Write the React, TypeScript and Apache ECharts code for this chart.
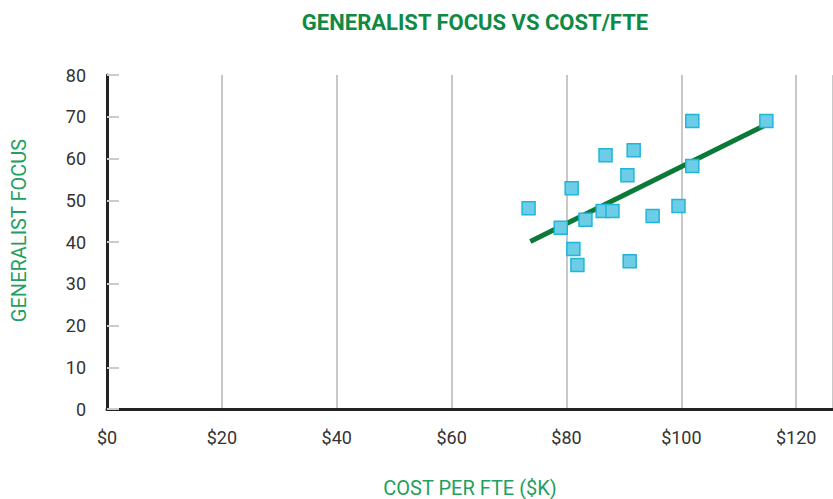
import React, { useEffect, useRef } from "react";
import * as echarts from "echarts";

const costPerFte: number[] = [73.4, 79.0, 80.9, 81.2, 81.9, 83.3, 86.3, 88.0, 86.8, 90.6, 91.7, 91.0, 95.0, 99.5, 101.9, 101.9, 114.8];
const generalistFocus: number[] = [48.1, 43.4, 52.9, 38.3, 34.5, 45.3, 47.4, 47.4, 60.8, 56.0, 62.0, 35.4, 46.2, 48.6, 69.0, 58.2, 69.0];
const trendX: number[] = [73.7, 114.3];
const trendY: number[] = [40.1, 67.8];
const yTicks: number[] = [0, 10, 20, 30, 40, 50, 60, 70, 80];
const xTickStep = 20;

const FONT = "Roboto, 'Noto Sans', sans-serif";

export default function App() {
  const ref = useRef<HTMLDivElement>(null);
  useEffect(() => {
    if (!ref.current) return;
    const chart = echarts.init(ref.current, undefined, { renderer: "svg" });
    chart.setOption({
      animation: false,
      backgroundColor: "#ffffff",
      title: {
        text: "GENERALIST FOCUS VS COST/FTE",
        left: 470,
        top: 6,
        textAlign: "center",
        textStyle: { fontFamily: FONT, fontWeight: "bold", fontSize: 22, color: "#0f8a45" },
      },
      grid: { left: 107, right: 0, top: 75, bottom: 90, containLabel: false, outerBoundsMode: "none" },
      xAxis: {
        type: "value",
        min: 0,
        max: 126.4,
        interval: xTickStep,
        name: "COST PER FTE ($K)",
        nameLocation: "middle",
        nameGap: 69,
        nameTextStyle: { fontFamily: FONT, fontSize: 20, color: "#22a060" },
        axisLine: { show: true, lineStyle: { color: "#222222", width: 3 } },
        axisTick: { show: false },
        axisLabel: {
          showMaxLabel: false,
          margin: 19,
          fontFamily: FONT,
          fontSize: 18,
          color: "#333333",
          formatter: (v: number) => "$" + v,
        },
        splitLine: { show: true, lineStyle: { color: "#c8c8c8", width: 2 } },
      },
      yAxis: {
        type: "value",
        min: yTicks[0],
        max: yTicks[yTicks.length - 1],
        interval: 10,
        name: "GENERALIST FOCUS",
        nameLocation: "middle",
        nameGap: 78,
        nameTextStyle: { fontFamily: FONT, fontSize: 20, color: "#22a060", padding: [0, 0, 0, 23] },
        axisLine: { show: true, lineStyle: { color: "#222222", width: 3 } },
        axisTick: { show: true, inside: true, length: 12, lineStyle: { color: "#cccccc", width: 2 } },
        axisLabel: { margin: 21, fontFamily: FONT, fontSize: 18, color: "#333333" },
        splitLine: { show: false },
      },
      series: [
        {
          type: "line",
          data: trendX.map((x, i) => [x, trendY[i]]),
          symbol: "none",
          lineStyle: { color: "#0b7a38", width: 5 },
          z: 2,
        },
        {
          type: "scatter",
          data: costPerFte.map((x, i) => [x, generalistFocus[i]]),
          symbol: "rect",
          symbolSize: 13,
          itemStyle: { color: "#6dcde6", borderColor: "#1fb6da", borderWidth: 1.5, opacity: 1 },
          z: 3,
        },
      ],
    });
    return () => chart.dispose();
  }, []);
  return <div ref={ref} style={{ width: 833, height: 499, position: "absolute", left: 0, top: 0 }} />;
}
